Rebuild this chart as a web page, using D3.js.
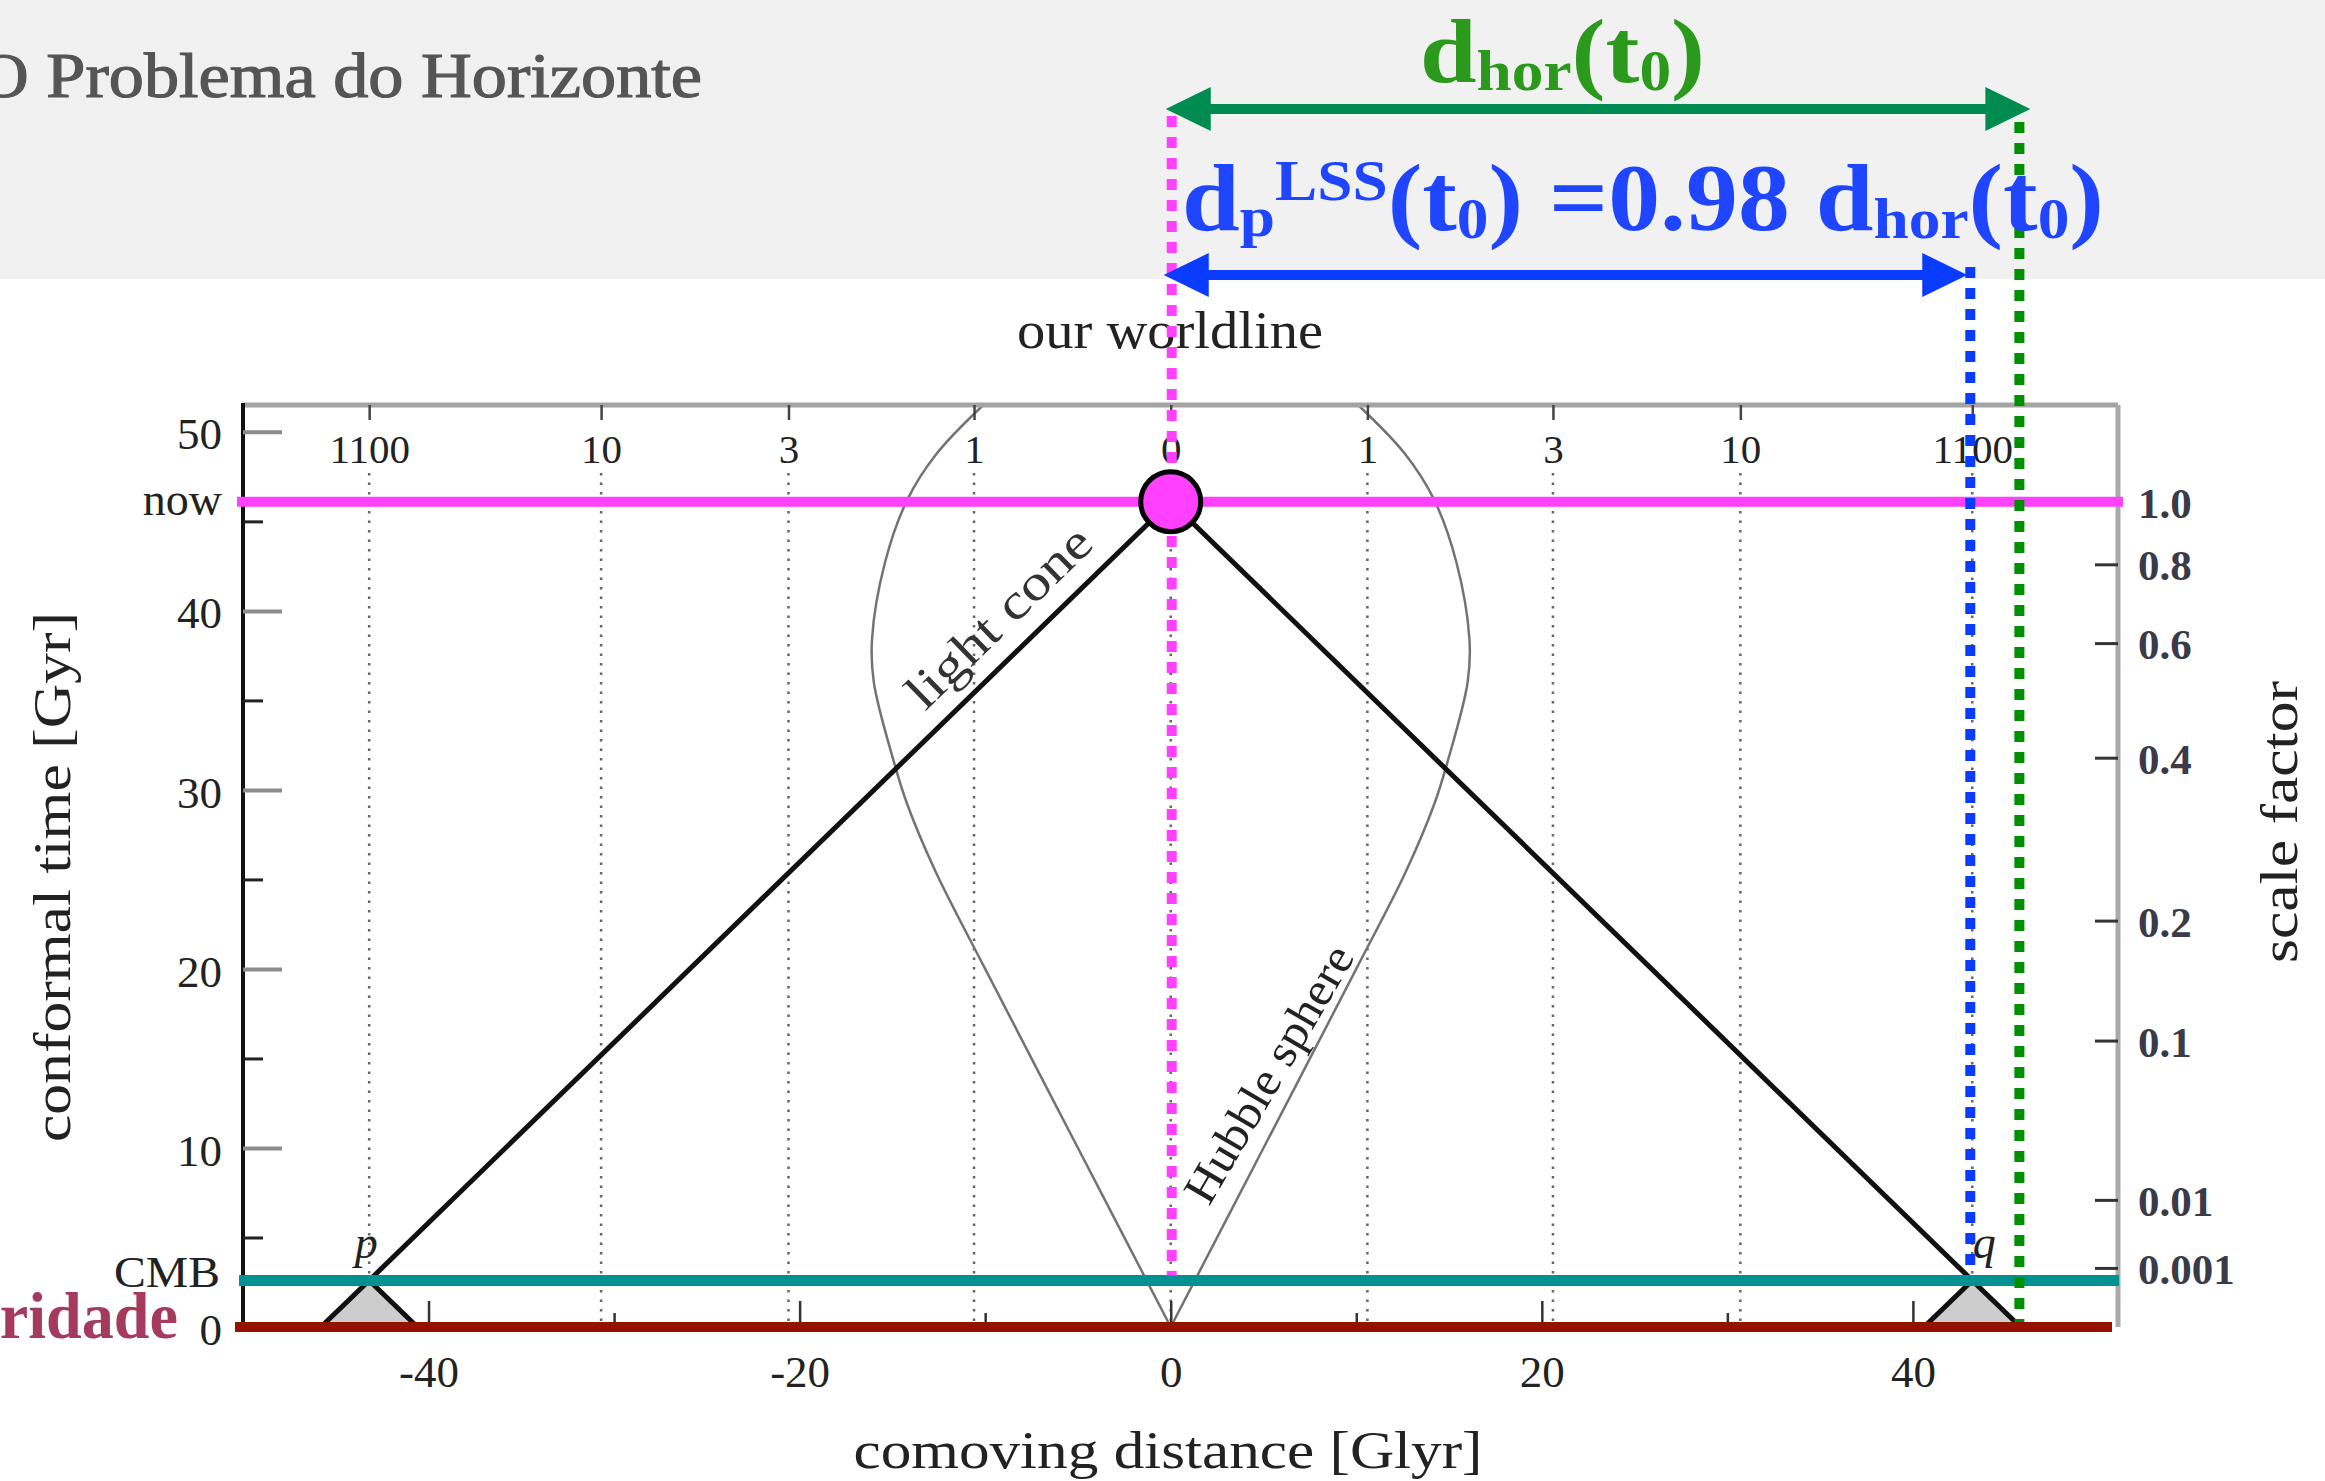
<!DOCTYPE html>
<html>
<head>
<meta charset="utf-8">
<script src="https://cdn.jsdelivr.net/npm/d3@7"></script>
<style>
  html, body { margin: 0; padding: 0; background: #fff; }
  svg { display: block; }
  text { white-space: pre; }
</style>
</head>
<body>
<svg id="chart" width="2325" height="1481"></svg>
<script>
// ---- data ----
var timeMajor = [0, 10, 20, 30, 40, 50];
var timeMinor = [5, 15, 25, 35, 45];
var distMajor = [-40, -20, 0, 20, 40];
var distMinor = [-30, -10, 10, 30];

// redshift labels along the top, at their comoving distance (Glyr)
var redshiftLabels = ["1100", "10", "3", "1", "0", "1", "3", "10", "1100"];
var redshiftDist = [-43.2, -30.7, -20.6, -10.6, 0, 10.6, 20.6, 30.7, 43.2];

// scale factor labels on the right, at their conformal time (Gyr)
var scaleLabels = ["1.0", "0.8", "0.6", "0.4", "0.2", "0.1", "0.01", "0.001"];
var scaleEta = [46.1, 42.6, 38.2, 31.8, 22.7, 16.0, 7.1, 3.3];

// hubble sphere (one branch, mirrored for the other side)
var hubbleEta = [0, 10, 20, 25.5, 29.2, 31.5, 36.0, 38.4, 42.7, 46.2, 48.8, 51.5];
var hubbleDist = [0, 5.0, 10.0, 12.7, 14.2, 14.9, 16.0, 16.1, 15.4, 14.2, 12.6, 10.1];

var nowEta = 46.1;      // "now"
var cmbEta = 2.6;       // CMB
var lssDist = 43.2;     // p and q
var horizonDist = 45.9; // particle horizon today

var serif = "'Liberation Serif', 'DejaVu Serif', serif";

var svg = d3.select("#chart");

var x = d3.scaleLinear().domain([-50, 51]).range([243, 2117]);
var y = d3.scaleLinear().domain([0, 51.5]).range([1327, 405]);

// header band of the slide
svg.append("rect").attr("x", 0).attr("y", 0).attr("width", 2325).attr("height", 279).attr("fill", "#f1f1f1");

// dotted redshift grid lines
svg.append("g").selectAll("line").data(redshiftDist).enter()
    .append("line")
        .attr("x1", function(d) { return x(d); })
        .attr("x2", function(d) { return x(d); })
        .attr("y1", 473)
        .attr("y2", y(0))
        .attr("stroke", "#666")
        .attr("stroke-width", 2.5)
        .attr("stroke-dasharray", "2.5 7");

// hubble sphere, both branches
var line = d3.line()
    .x(function(d) { return x(d[0]); })
    .y(function(d) { return y(d[1]); })
    .curve(d3.curveCatmullRom.alpha(0.5));

[1, -1].forEach(function(s) {
    svg.append("path")
        .attr("d", line(hubbleEta.map(function(t, i) { return [s * hubbleDist[i], t]; })))
        .attr("fill", "none")
        .attr("stroke", "#737373")
        .attr("stroke-width", 2.5);
});

// past light cones of p and q below the CMB
var straight = d3.line().x(function(d) { return x(d[0]); }).y(function(d) { return y(d[1]); });
[-1, 1].forEach(function(s) {
    svg.append("path")
        .attr("d", straight([[s * lssDist - cmbEta, 0], [s * lssDist, cmbEta], [s * lssDist + cmbEta, 0]]))
        .attr("fill", "#cdcdcd")
        .attr("stroke", "#111")
        .attr("stroke-width", 5);
});

// our past light cone
svg.append("path")
    .attr("d", straight([[-lssDist, cmbEta], [0, nowEta], [lssDist, cmbEta]]))
    .attr("fill", "none")
    .attr("stroke", "#111")
    .attr("stroke-width", 5);

// frame
svg.append("line").attr("x1", x.range()[0]).attr("x2", 2118).attr("y1", 405).attr("y2", 405)
    .attr("stroke", "#a3a3a3").attr("stroke-width", 5);
svg.append("line").attr("x1", 2118).attr("x2", 2118).attr("y1", 405).attr("y2", y(0))
    .attr("stroke", "#aaa").attr("stroke-width", 5);
svg.append("line").attr("x1", x.range()[0]).attr("x2", x.range()[0]).attr("y1", 403).attr("y2", y(0))
    .attr("stroke", "#111").attr("stroke-width", 4);

function styleAxis(g, size, stroke, width) {
    g.attr("font-family", serif).attr("font-size", size);
    g.select(".domain").remove();
    g.selectAll(".tick line").attr("stroke", stroke).attr("stroke-width", width);
    g.selectAll(".tick text").attr("fill", "#222");
}

// left axis: conformal time
svg.append("g").attr("transform", "translate(" + x.range()[0] + ",0)")
    .call(d3.axisLeft(y).tickValues(timeMajor).tickSize(-39).tickPadding(21).tickFormat(d3.format("d")))
    .call(styleAxis, 45, "#8c8c8c", 4)
    .selectAll(".tick text").attr("dy", "0.38em");
svg.append("g").attr("transform", "translate(" + x.range()[0] + ",0)")
    .call(d3.axisLeft(y).tickValues(timeMinor).tickSize(-20).tickFormat(""))
    .call(styleAxis, 45, "#222", 3);

svg.append("text").attr("x", 222).attr("y", y(nowEta) + 13).attr("text-anchor", "end")
    .attr("font-family", serif).attr("font-size", 46).attr("fill", "#222").text("now");
svg.append("text").attr("x", 220).attr("y", y(cmbEta) + 7).attr("text-anchor", "end")
    .attr("font-family", serif).attr("font-size", 44).attr("fill", "#222")
    .attr("textLength", 106).attr("lengthAdjust", "spacingAndGlyphs").text("CMB");

// bottom axis: comoving distance
svg.append("g").attr("transform", "translate(0," + y(0) + ")")
    .call(d3.axisBottom(x).tickValues(distMajor).tickSize(-26).tickPadding(28).tickFormat(d3.format("d")))
    .call(styleAxis, 45, "#333", 2.5)
    .selectAll(".tick text").text(function(d) { return d < 0 ? "-" + Math.abs(d) : d; });
svg.append("g").attr("transform", "translate(0," + y(0) + ")")
    .call(d3.axisBottom(x).tickValues(distMinor).tickSize(-14).tickFormat(""))
    .call(styleAxis, 45, "#333", 2.5);

// top axis: redshift
svg.append("g").attr("transform", "translate(0,405)")
    .call(d3.axisBottom(x).tickValues(redshiftDist).tickSize(15).tickPadding(14)
        .tickFormat(function(d, i) { return redshiftLabels[i]; }))
    .call(styleAxis, 41, "#444", 2.5);

// right axis: scale factor
svg.append("g").attr("transform", "translate(2118,0)")
    .call(d3.axisRight(y).tickValues(scaleEta).tickSize(-23).tickPadding(20)
        .tickFormat(function(d, i) { return scaleLabels[i]; }))
    .call(styleAxis, 43, "#333", 3)
    .selectAll(".tick text").attr("font-weight", "bold").attr("fill", "#3a3a48").attr("dy", "0.36em");

// axis titles
svg.append("text").attr("transform", "translate(70,877) rotate(-90)").attr("text-anchor", "middle")
    .attr("font-family", serif).attr("font-size", 52).attr("fill", "#222")
    .attr("textLength", 530).attr("lengthAdjust", "spacingAndGlyphs").text("conformal time [Gyr]");
svg.append("text").attr("x", 1168).attr("y", 1468).attr("text-anchor", "middle")
    .attr("font-family", serif).attr("font-size", 52).attr("fill", "#222")
    .attr("textLength", 629).attr("lengthAdjust", "spacingAndGlyphs").text("comoving distance [Glyr]");
svg.append("text").attr("transform", "translate(2297,822) rotate(-90)").attr("text-anchor", "middle")
    .attr("font-family", serif).attr("font-size", 52).attr("fill", "#222")
    .attr("textLength", 282).attr("lengthAdjust", "spacingAndGlyphs").text("scale factor");
svg.append("text").attr("x", 1170).attr("y", 348).attr("text-anchor", "middle")
    .attr("font-family", serif).attr("font-size", 53).attr("fill", "#222")
    .attr("textLength", 306).attr("lengthAdjust", "spacingAndGlyphs").text("our worldline");

// labels along the curves
var coneAngle = Math.atan2(y(nowEta) - y(cmbEta), x(0) - x(-lssDist)) * 180 / Math.PI;
svg.append("text")
    .attr("transform", "translate(" + x(-9.2) + "," + y(39.6) + ") rotate(" + coneAngle + ")")
    .attr("text-anchor", "middle").attr("dy", "0.3em")
    .attr("font-family", serif).attr("font-size", 50).attr("fill", "#333")
    .attr("textLength", 238).attr("lengthAdjust", "spacingAndGlyphs").text("light cone");
svg.append("text")
    .attr("transform", "translate(" + x(5.35) + "," + y(14.1) + ") rotate(-59.7)")
    .attr("text-anchor", "middle").attr("dy", "0.3em")
    .attr("font-family", serif).attr("font-size", 47).attr("fill", "#222")
    .attr("textLength", 290).attr("lengthAdjust", "spacingAndGlyphs").text("Hubble sphere");
svg.append("text").attr("x", x(-lssDist) - 3).attr("y", y(cmbEta) - 22).attr("text-anchor", "middle")
    .attr("font-family", serif).attr("font-style", "italic").attr("font-size", 46).attr("fill", "#222").text("p");
svg.append("text").attr("x", x(lssDist) + 12).attr("y", y(cmbEta) - 22).attr("text-anchor", "middle")
    .attr("font-family", serif).attr("font-style", "italic").attr("font-size", 46).attr("fill", "#222").text("q");

// ---- slide annotations ----
var pink = "#ff40ff", teal = "#009292", darkred = "#931300";

svg.append("line").attr("x1", 237).attr("x2", 2123).attr("y1", y(nowEta)).attr("y2", y(nowEta))
    .attr("stroke", pink).attr("stroke-width", 10);
svg.append("line").attr("x1", 239).attr("x2", 2119).attr("y1", y(cmbEta)).attr("y2", y(cmbEta))
    .attr("stroke", teal).attr("stroke-width", 11);
svg.append("line").attr("x1", 235).attr("x2", 2112).attr("y1", y(0)).attr("y2", y(0))
    .attr("stroke", darkred).attr("stroke-width", 10);

function dotted(xx, y1, y2, color) {
    svg.append("line").attr("x1", xx).attr("x2", xx).attr("y1", y1).attr("y2", y2)
        .attr("stroke", color).attr("stroke-width", 10).attr("stroke-dasharray", "11 10");
}
dotted(x(0) + 1, 116, y(cmbEta) - 5, pink);
dotted(x(lssDist) - 2, 267, y(cmbEta) - 6, "#0a3cff");
dotted(x(horizonDist) - 3, 122, y(0) - 5, "#008f00");

svg.append("circle").attr("cx", x(0)).attr("cy", y(nowEta)).attr("r", 30)
    .attr("fill", pink).attr("stroke", "#000").attr("stroke-width", 5);

function arrow(xa, xb, yy, color) {
    svg.append("line").attr("x1", xa + 30).attr("x2", xb - 30).attr("y1", yy).attr("y2", yy)
        .attr("stroke", color).attr("stroke-width", 10);
    svg.append("path").attr("fill", color)
        .attr("d", "M" + xa + "," + yy + "L" + (xa + 45) + "," + (yy - 22) + "L" + (xa + 45) + "," + (yy + 22) + "Z");
    svg.append("path").attr("fill", color)
        .attr("d", "M" + xb + "," + yy + "L" + (xb - 45) + "," + (yy - 22) + "L" + (xb - 45) + "," + (yy + 22) + "Z");
}
arrow(x(0) - 5, x(horizonDist) + 8, 109, "#008c50");
arrow(x(0) - 7, x(lssDist) - 5, 275, "#0a3cff");

// formula labels, squeezed to the width they take on the slide
function mathText(parts, x0, x1, base, color) {
    var t = svg.append("text").attr("font-family", serif).attr("font-weight", "bold")
        .attr("fill", color).attr("x", 0).attr("y", base);
    parts.forEach(function(p) {
        t.append("tspan").attr("y", base + (p.dy || 0)).attr("font-size", p.size).text(p.t);
    });
    var bb = t.node().getBBox();
    t.attr("transform", "translate(" + x0 + ",0) scale(" + ((x1 - x0) / bb.width) + ",1) translate(" + (-bb.x) + ",0)");
}

mathText([
    {t: "d", size: 90}, {t: "hor", size: 56, dy: 8}, {t: "(t", size: 90},
    {t: "0", size: 56, dy: 8}, {t: ")", size: 90}
], 1420, 1705, 82, "#2b9a1c");

mathText([
    {t: "d", size: 95}, {t: "p", size: 58, dy: 6}, {t: "LSS", size: 58, dy: -30},
    {t: "(t", size: 95}, {t: "0", size: 58, dy: 8}, {t: ")", size: 95},
    {t: " =0.98 d", size: 95}, {t: "hor", size: 58, dy: 8}, {t: "(t", size: 95},
    {t: "0", size: 58, dy: 8}, {t: ")", size: 95}
], 1182, 2104, 230, "#1f45ff");

// slide title and the cut-off "Singularidade"
svg.append("text").attr("x", -22).attr("y", 97)
    .attr("font-family", serif).attr("font-size", 64).attr("fill", "#555")
    .attr("stroke", "#555").attr("stroke-width", 1.2)
    .attr("textLength", 724).attr("lengthAdjust", "spacingAndGlyphs").text("O Problema do Horizonte");
svg.append("text").attr("x", 178 - 385).attr("y", 1338)
    .attr("font-family", serif).attr("font-size", 66).attr("font-weight", "bold")
    .attr("fill", "#a43b5c")
    .attr("textLength", 385).attr("lengthAdjust", "spacingAndGlyphs").text("Singularidade");
</script>
</body>
</html>
